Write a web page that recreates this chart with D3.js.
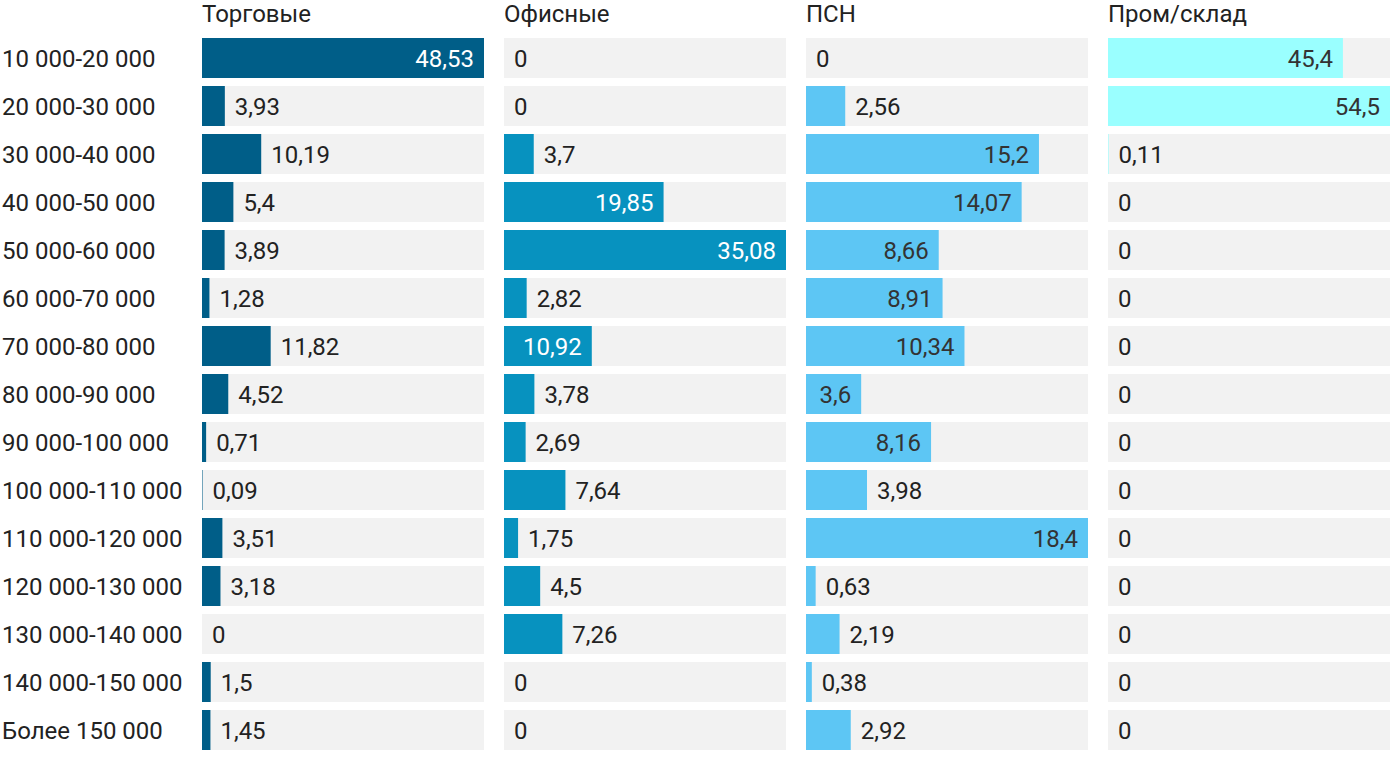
<!DOCTYPE html>
<html><head><meta charset="utf-8">
<script src="https://cdn.jsdelivr.net/npm/d3@7/dist/d3.min.js"></script>
<style>
html,body{margin:0;padding:0;background:#fff;}
svg text{font-family:Roboto,"Noto Sans",sans-serif;}
</style></head>
<body>
<svg id="chart" width="1400" height="766"></svg>
<script>
const categories = ["10 000-20 000","20 000-30 000","30 000-40 000","40 000-50 000","50 000-60 000","60 000-70 000","70 000-80 000","80 000-90 000","90 000-100 000","100 000-110 000","110 000-120 000","120 000-130 000","130 000-140 000","140 000-150 000","Более 150 000"];
const seriesNames = ["Торговые","Офисные","ПСН","Пром/склад"];
const torgovye = [48.53,3.93,10.19,5.4,3.89,1.28,11.82,4.52,0.71,0.09,3.51,3.18,0,1.5,1.45];
const ofisnye = [0,0,3.7,19.85,35.08,2.82,10.92,3.78,2.69,7.64,1.75,4.5,7.26,0,0];
const psn = [0,2.56,15.2,14.07,8.66,8.91,10.34,3.6,8.16,3.98,18.4,0.63,2.19,0.38,2.92];
const promsklad = [45.4,54.5,0.11,0,0,0,0,0,0,0,0,0,0,0,0];
const seriesValues = [torgovye, ofisnye, psn, promsklad];
const colors = ["#005e88","#0792bf","#5dc6f4","#9affff"];
const insideText = ["#ffffff","#ffffff","#333333","#333333"];

const svg = d3.select("#chart");
const fs = 24;
const panelX = [202,504,806,1108];
const panelW = 282;

const y = d3.scaleBand().domain(categories).range([38,750]).paddingInner(1/6).paddingOuter(0);

// row labels
svg.append("g").selectAll("text").data(categories).join("text")
  .attr("x",2).attr("y",d=>y(d)+y.bandwidth()/2).attr("dy","0.36em")
  .attr("font-size",fs).attr("fill","#222222").text(d=>d);

const fmt = v => String(v).replace(".",",");

seriesValues.forEach((vals,i)=>{
  const x = d3.scaleLinear().domain([0,d3.max(vals)]).range([0,panelW]);
  const g = svg.append("g").attr("transform",`translate(${panelX[i]},0)`);
  g.append("text").attr("x",0).attr("y",22).attr("font-size",fs).attr("fill","#222222").text(seriesNames[i]);
  g.selectAll("rect.bg").data(categories).join("rect").attr("class","bg")
    .attr("x",0).attr("y",d=>y(d)).attr("width",panelW).attr("height",y.bandwidth()).attr("fill","#f2f2f2");
  g.selectAll("rect.bar").data(vals).join("rect").attr("class","bar")
    .attr("x",0).attr("y",(d,j)=>y(categories[j])).attr("width",d=>x(d)).attr("height",y.bandwidth()).attr("fill",colors[i]);
  const lbl = g.selectAll("text.v").data(vals).join("text").attr("class","v")
    .attr("y",(d,j)=>y(categories[j])+y.bandwidth()/2).attr("dy","0.36em")
    .attr("font-size",fs).text(d=>fmt(d));
  lbl.each(function(d){
    const t = d3.select(this);
    const w = this.getComputedTextLength();
    const bw = x(d);
    if (w + 20 <= bw) {
      t.attr("x",bw-10).attr("text-anchor","end").attr("fill",insideText[i]);
    } else {
      t.attr("x",bw+10).attr("text-anchor","start").attr("fill","#222222");
    }
  });
});
</script>
</body></html>
